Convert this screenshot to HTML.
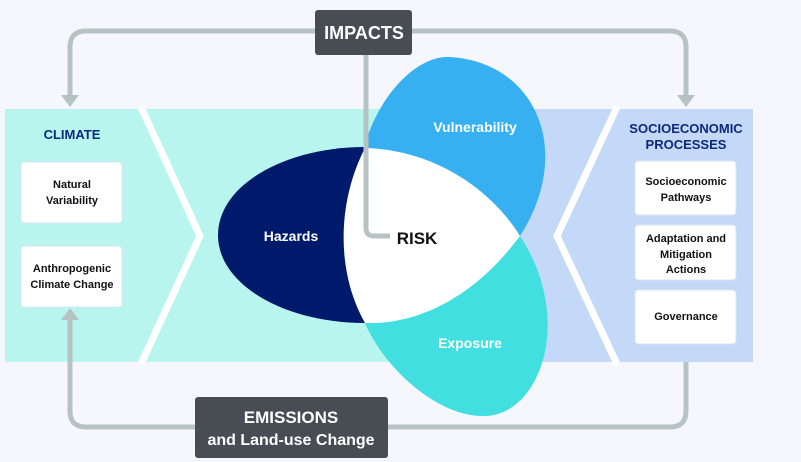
<!DOCTYPE html>
<html><head><meta charset="utf-8"><style>
body{margin:0;background:#f6f7fc;}
svg{display:block;font-family:"Liberation Sans",sans-serif;font-weight:bold;}
</style></head><body>
<svg width="801" height="462" viewBox="0 0 801 462" xmlns="http://www.w3.org/2000/svg">
<rect width="801" height="462" fill="#f6f7fc"/>
<rect x="5" y="109" width="400" height="253" fill="#b8f5ee"/>
<rect x="400" y="109" width="353" height="253" fill="#c4d8f8"/>
<polyline points="141,107 200,236 141,364" fill="none" stroke="#fff" stroke-width="7"/>
<polyline points="617,107 557,236 617,364" fill="none" stroke="#fff" stroke-width="7"/>
<g fill="none" stroke="#b7c2c3" stroke-width="5">
<path d="M315 31 H86 Q70 31 70 47 V98"/>
<path d="M412 31 H670 Q686 31 686 47 V98"/>
<path d="M686 362 V411 Q686 427 670 427 H388"/>
<path d="M195 427 H86 Q70 427 70 411 V318"/>
</g>
<polygon points="61,95 79,95 70,107" fill="#b7c2c3"/>
<polygon points="677,95 695,95 686,107" fill="#b7c2c3"/>
<polygon points="61,320 79,320 70,308" fill="#b7c2c3"/>
<path d="M365 147 C285 147 218 185 218 235 C218 285 285 323 365 323 Z" fill="#001a6b"/>
<path d="M363 150 C380 90 420 55 450 57 C535 62 575 150 520 236 Z" fill="#36b0f0"/>
<path d="M520 236 C575 320 540 415 485 416 C440 418 385 370 365 323 Z" fill="#41dfe0"/>
<path d="M365 148 C440 150 495 195 520 236 C480 290 425 325 365 323 C335 270 338 200 365 148 Z" fill="#fff"/>
<path d="M366 55 V228 Q366 236 374 236 H390" fill="none" stroke="#b7c2c3" stroke-width="5"/>
<rect x="315" y="10" width="97" height="45" rx="3" fill="#474d52"/>
<text x="364" y="39" fill="#fff" font-size="18" text-anchor="middle">IMPACTS</text>
<rect x="195" y="397" width="193" height="61" rx="3" fill="#474d52"/>
<text x="291" y="423" fill="#fff" font-size="17" text-anchor="middle">EMISSIONS</text>
<text x="291" y="445" fill="#fff" font-size="16" text-anchor="middle">and Land-use Change</text>
<text x="72" y="139" fill="#0d2a78" font-size="13" text-anchor="middle">CLIMATE</text>
<text x="686" y="133" fill="#0d2a78" font-size="13" text-anchor="middle">SOCIOECONOMIC</text>
<text x="686" y="149" fill="#0d2a78" font-size="13" text-anchor="middle">PROCESSES</text>
<g fill="#fff" stroke="#d5e6f5" stroke-width="1">
<rect x="21" y="162" width="101" height="61" rx="3"/>
<rect x="21" y="246" width="101" height="61" rx="3"/>
<rect x="635" y="161" width="101" height="54" rx="3"/>
<rect x="635" y="225" width="101" height="55" rx="3"/>
<rect x="635" y="290" width="101" height="54" rx="3"/>
</g>
<g fill="#111" font-size="11" text-anchor="middle">
<text x="72" y="188">Natural</text><text x="72" y="204">Variability</text>
<text x="72" y="272">Anthropogenic</text><text x="72" y="288">Climate Change</text>
<text x="686" y="185">Socioeconomic</text><text x="686" y="201">Pathways</text>
<text x="686" y="242">Adaptation and</text><text x="686" y="258">Mitigation</text><text x="686" y="273">Actions</text>
<text x="686" y="320">Governance</text>
</g>
<text x="291" y="241" fill="#fff" font-size="14" text-anchor="middle">Hazards</text>
<text x="475" y="132" fill="#fff" font-size="14" text-anchor="middle">Vulnerability</text>
<text x="470" y="348" fill="#fff" font-size="14" text-anchor="middle">Exposure</text>
<text x="417" y="244" fill="#111" font-size="17" text-anchor="middle">RISK</text>
</svg>
</body></html>
